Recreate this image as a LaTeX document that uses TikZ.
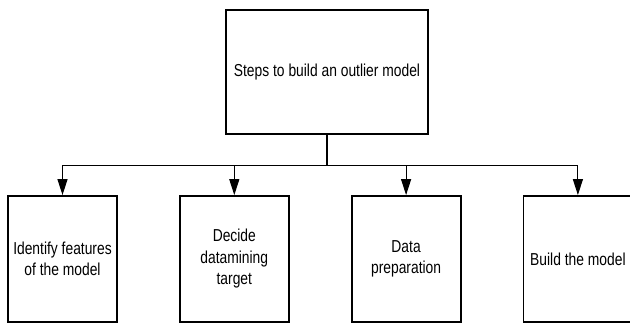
\documentclass[tikz,border=0pt]{standalone}
\usepackage{fontspec}
\setmainfont{Liberation Sans}[FakeStretch=0.8]
\usetikzlibrary{calc, positioning}
\usetikzlibrary{arrows.meta}
\def\bw{109pt}
\def\bh{126pt}
\tikzset{
    border/.style = { 
        draw, rectangle, minimum width=\bw, minimum height=\bh, line width=1.8pt, align=center, inner sep=2pt, font=\fontsize{17.3}{21.5}\selectfont
    },
    goalborder/.style = { 
        border, minimum width=202pt, minimum height=124pt
    },
}

\begin{document}
\begin{tikzpicture}
        \useasboundingbox (0pt, 0pt) rectangle (630pt, -323pt);

        % Place the blocks 
        \node [goalborder] (goal) at (327pt, -72pt) {Steps to build an outlier model};
        \node [border] (s1) at (62.5pt, -259pt) {Identify features\\of the model};
        \node [border, right=61pt of s1] (s2) {Decide\\datamining\\target};
        \node [border, right=61pt of s2] (s3) {Data\\preparation};
        \node [border, right=61pt of s3] (s4) {Build the model};

        % Draw connections 
        \begin{scope}[line width=1.1pt, >={Triangle[width=10pt,length=16pt]}]
            \draw[-] (goal.south) -- ++(0pt, -31pt) coordinate(split);
            \foreach \n in {s1, s2, s3, s4}{
                \draw[->] (split) -| (\n.north);
            }
        \end{scope}
    \end{tikzpicture}
\end{document}
